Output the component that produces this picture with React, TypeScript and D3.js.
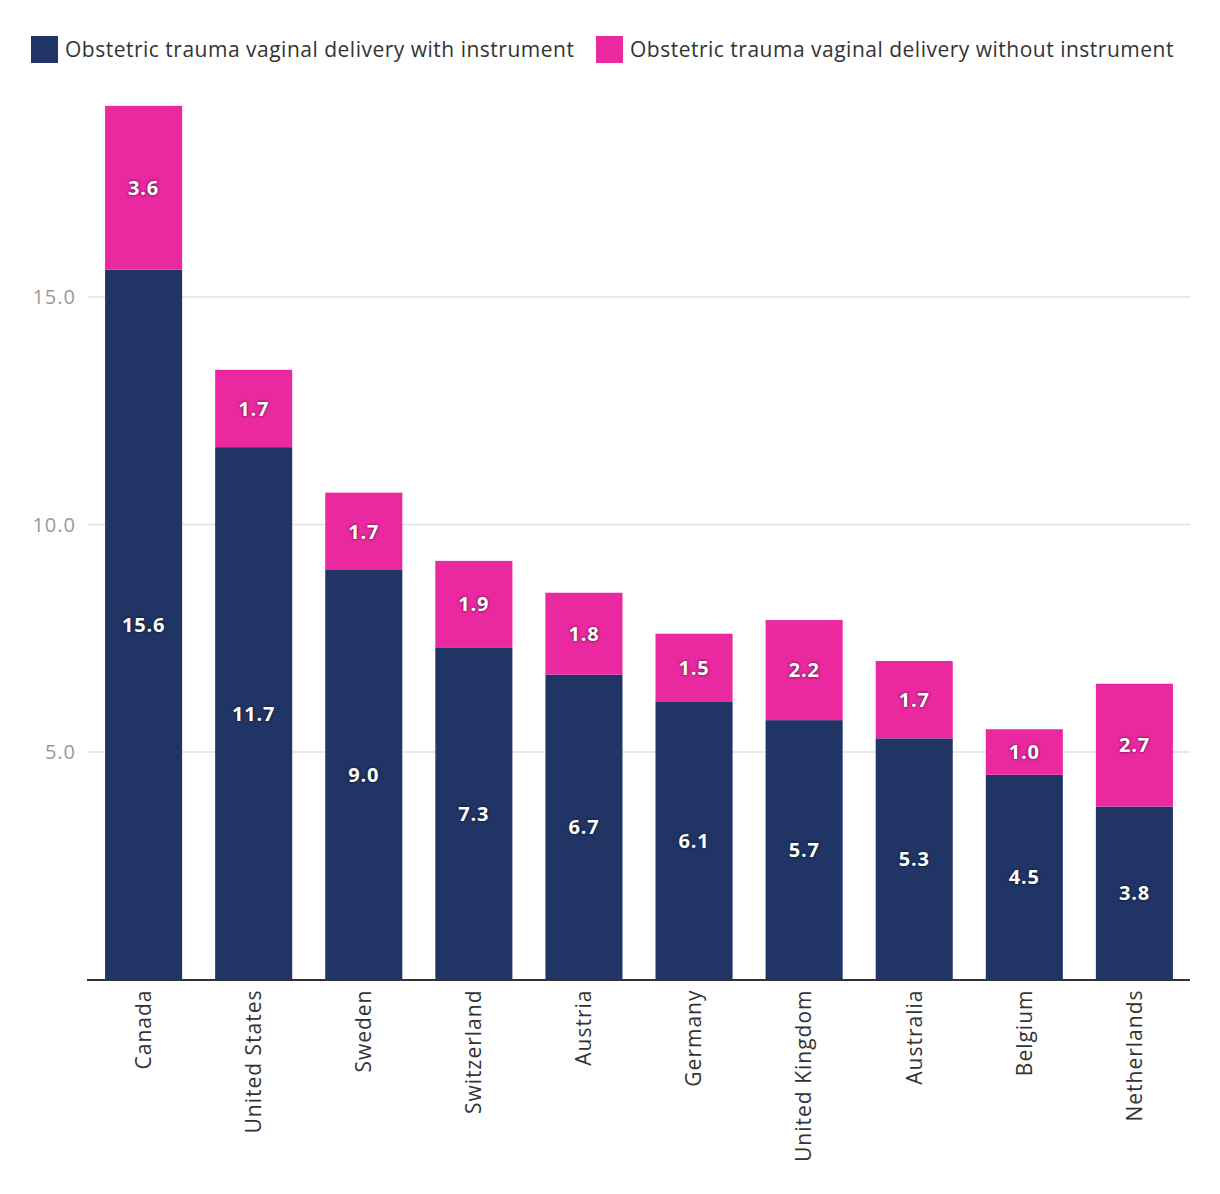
import { useEffect, useRef } from "react"
import * as d3 from "d3"

const countries = [
  "Canada",
  "United States",
  "Sweden",
  "Switzerland",
  "Austria",
  "Germany",
  "United Kingdom",
  "Australia",
  "Belgium",
  "Netherlands",
]
const withInstrument = [15.6, 11.7, 9.0, 7.3, 6.7, 6.1, 5.7, 5.3, 4.5, 3.8]
const withoutInstrument = [3.6, 1.7, 1.7, 1.9, 1.8, 1.5, 2.2, 1.7, 1.0, 2.7]
const seriesNames = [
  "Obstetric trauma vaginal delivery with instrument",
  "Obstetric trauma vaginal delivery without instrument",
]
const seriesColors = ["#203566", "#ea28a0"]
const yTicks = [5, 10, 15]

const FONT = "'Open Sans', sans-serif"

export default function App() {
  const svgRef = useRef<SVGSVGElement>(null)

  useEffect(() => {
    if (!svgRef.current) return
    const svg = d3.select(svgRef.current)
    svg.selectAll("*").remove()

    const left = 80
    const right = 1182
    const baseY = 971.5
    const pxPerUnit = 45.5
    const yMax = 20

    const x = d3
      .scaleBand()
      .domain(countries)
      .range([left, right])
      .paddingInner(0.3)
      .paddingOuter(0.155)

    const y = d3.scaleLinear().domain([0, yMax]).range([baseY, baseY - pxPerUnit * yMax])

    // Gridlines + y labels
    const grid = svg.append("g")
    grid
      .selectAll("line")
      .data(yTicks)
      .join("line")
      .attr("x1", left)
      .attr("x2", right)
      .attr("y1", (d) => y(d))
      .attr("y2", (d) => y(d))
      .attr("stroke", "#e2e2e2")
      .attr("stroke-width", 1.5)
    grid
      .selectAll("text")
      .data(yTicks)
      .join("text")
      .attr("x", left - 12)
      .attr("y", (d) => y(d))
      .attr("dy", "0.35em")
      .attr("text-anchor", "end")
      .attr("fill", "#9a9a9a")
      .style("font-family", FONT)
      .style("font-size", "20px")
      .style("letter-spacing", "1px")
      .text((d) => d.toFixed(1))

    // Stacked data
    const rows = countries.map((c, i) => ({ country: c, a: withInstrument[i], b: withoutInstrument[i] }))
    const stack = d3.stack<any>().keys(["a", "b"])(rows)

    const layers = svg
      .selectAll("g.layer")
      .data(stack)
      .join("g")
      .attr("class", "layer")
      .attr("fill", (_, i) => seriesColors[i])

    layers
      .selectAll("rect")
      .data((d) => d)
      .join("rect")
      .attr("x", (d) => x(d.data.country) || 0)
      .attr("width", x.bandwidth())
      .attr("y", (d) => y(d[1]))
      .attr("height", (d) => y(d[0]) - y(d[1]))

    // Value labels
    stack.forEach((layer) => {
      svg
        .append("g")
        .selectAll("text")
        .data(layer)
        .join("text")
        .attr("x", (d) => (x(d.data.country) || 0) + x.bandwidth() / 2)
        .attr("y", (d) => (y(d[0]) + y(d[1])) / 2)
        .attr("dy", "0.36em")
        .attr("text-anchor", "middle")
        .attr("fill", "#ffffff")
        .style("font-family", FONT)
        .style("font-weight", "700")
        .style("font-size", "20px")
        .style("letter-spacing", "0.8px")
        .style("text-shadow", "0 0 3px rgba(0,0,0,0.75)")
        .text((d) => (d[1] - d[0]).toFixed(1))
    })

    // Axis line
    svg
      .append("line")
      .attr("x1", left - 1)
      .attr("x2", right)
      .attr("y1", baseY + 0.5)
      .attr("y2", baseY + 0.5)
      .attr("stroke", "#333")
      .attr("stroke-width", 2)

    // X labels
    svg
      .append("g")
      .selectAll("text")
      .data(countries)
      .join("text")
      .attr(
        "transform",
        (d) => `translate(${(x(d) || 0) + x.bandwidth() / 2},${baseY + 10}) rotate(-90)`
      )
      .attr("dy", "0.35em")
      .attr("text-anchor", "end")
      .attr("fill", "#333")
      .style("font-family", FONT)
      .style("font-size", "21px")
      .style("letter-spacing", "1px")
      .text((d) => d)

    // Legend
    const legendX = [23, 588]
    const legend = svg
      .append("g")
      .selectAll("g")
      .data(seriesNames)
      .join("g")
      .attr("transform", (_, i) => `translate(${legendX[i]},28)`)
    legend
      .append("rect")
      .attr("width", 27)
      .attr("height", 27)
      .attr("fill", (_, i) => seriesColors[i])
    legend
      .append("text")
      .attr("x", 34)
      .attr("y", 13.5)
      .attr("dy", "0.35em")
      .attr("fill", "#333")
      .style("font-family", FONT)
      .style("font-size", "21px")
      .style("letter-spacing", "0.5px")
      .text((d) => d)
  }, [])

  return <svg ref={svgRef} width={1204} height={1178} style={{ display: "block" }} />
}
